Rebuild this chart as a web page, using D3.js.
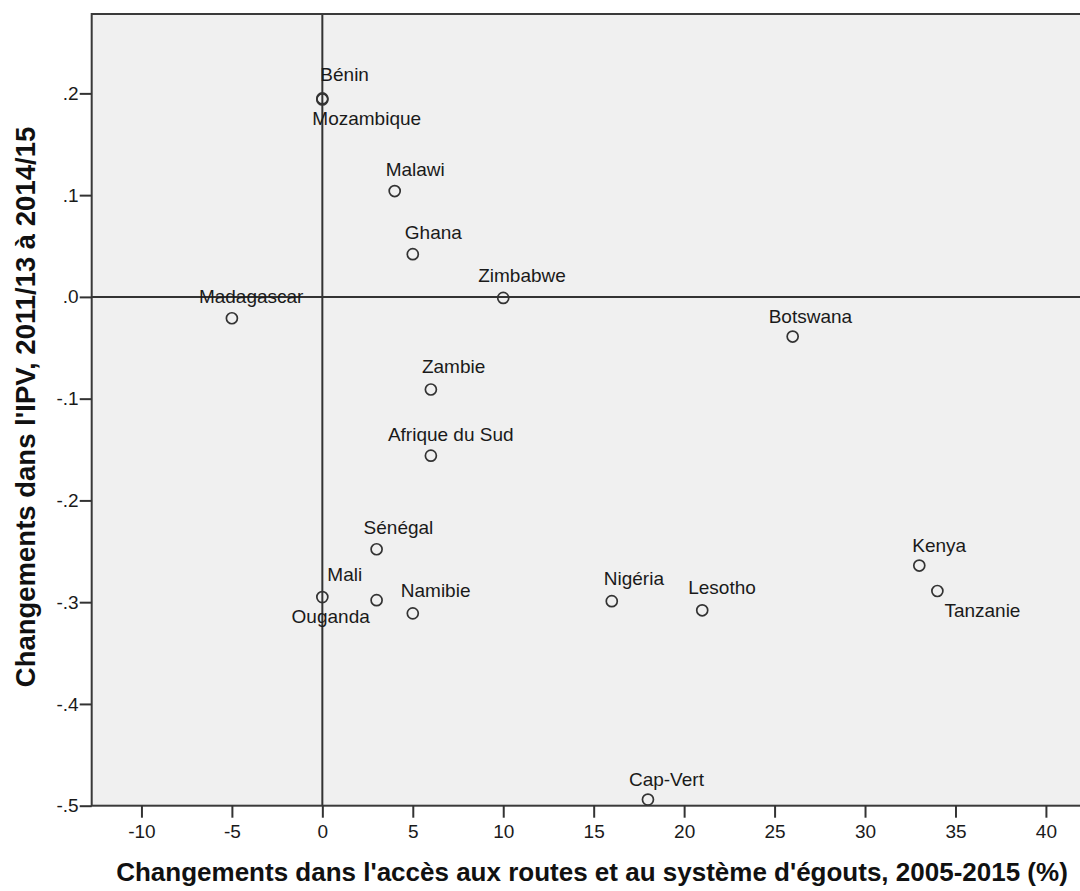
<!DOCTYPE html>
<html>
<head>
<meta charset="utf-8">
<script src="https://cdn.jsdelivr.net/npm/d3@7"></script>
<style>
  html, body { margin: 0; padding: 0; background: #ffffff; }
  svg { display: block; }
  text { font-family: "Liberation Sans", Arial, sans-serif; }
</style>
</head>
<body>
<svg id="chart" width="1080" height="891"></svg>
<script>
// ---- Data ----
const countries = ["Bénin","Mozambique","Malawi","Ghana","Zimbabwe","Madagascar","Botswana","Zambie",
  "Afrique du Sud","Sénégal","Mali","Ouganda","Namibie","Nigéria","Lesotho","Kenya","Tanzanie","Cap-Vert"];
const accessChange = [0, 0, 4, 5, 10, -5, 26, 6, 6, 3, 0, 3, 5, 16, 21, 33, 34, 18];
const ipvChange = [0.195, 0.194, 0.104, 0.042, -0.001, -0.021, -0.039, -0.091,
  -0.156, -0.248, -0.295, -0.298, -0.311, -0.299, -0.308, -0.264, -0.289, -0.494];
const xTickValues = [-10, -5, 0, 5, 10, 15, 20, 25, 30, 35, 40];
const xTickLabels = ["-10","-5","0","5","10","15","20","25","30","35","40"];
const yTickValues = [0.2, 0.1, 0.0, -0.1, -0.2, -0.3, -0.4, -0.5];
const yTickLabels = [".2", ".1", ".0", "-.1", "-.2", "-.3", "-.4", "-.5"];
const xTitle = "Changements dans l'accès aux routes et au système d'égouts, 2005-2015 (%)";
const yTitle = "Changements dans l'IPV, 2011/13 à 2014/15";

// label placement relative to each point (layout, in px)
const labelPlacement = [[-2,-17],[-10,26],[-9,-15],[-8,-15],[-25,-16],[-33,-15],[-24,-14],[-9,-16],
  [-43,-15],[-13,-15],[5,-16],[-85,23],[-12,-16],[-8,-16],[-14,-16],[-7,-14],[7,26],[-19,-14]];

// ---- Layout ----
const svg = d3.select("#chart");
const pLeft = 91.7, pRight = 1083, pTop = 14, pBottom = 805.7;

const x = d3.scaleLinear().domain([-12.75, 42.05]).range([pLeft, pRight]);
const y = d3.scaleLinear().domain([-0.5, 0.278]).range([pBottom, pTop]);

svg.append("rect").attr("x", 0).attr("y", 0).attr("width", 1080).attr("height", 891).attr("fill", "#ffffff");

// plot area
svg.append("rect")
  .attr("x", pLeft).attr("y", pTop)
  .attr("width", pRight - pLeft).attr("height", pBottom - pTop)
  .attr("fill", "#f0f0f0");

// reference lines
svg.append("line")
  .attr("x1", x(0)).attr("x2", x(0)).attr("y1", pTop).attr("y2", pBottom)
  .attr("stroke", "#333").attr("stroke-width", 2);
svg.append("line")
  .attr("x1", pLeft).attr("x2", pRight).attr("y1", y(0)).attr("y2", y(0))
  .attr("stroke", "#333").attr("stroke-width", 2);

// border
svg.append("rect")
  .attr("x", pLeft).attr("y", pTop)
  .attr("width", pRight - pLeft).attr("height", pBottom - pTop)
  .attr("fill", "none").attr("stroke", "#3a3a3a").attr("stroke-width", 2);

// axes
const xAxis = d3.axisBottom(x).tickValues(xTickValues)
  .tickFormat((d, i) => xTickLabels[i]).tickSize(12).tickPadding(7);
const gx = svg.append("g").attr("transform", `translate(0,${pBottom})`).call(xAxis);
gx.select(".domain").remove();
gx.selectAll(".tick line").attr("stroke", "#333").attr("stroke-width", 2);
gx.selectAll(".tick text").attr("font-size", 19).attr("fill", "#1a1a1a")
  .attr("font-family", '"Liberation Sans", Arial, sans-serif');

const yAxis = d3.axisLeft(y).tickValues(yTickValues)
  .tickFormat((d, i) => yTickLabels[i]).tickSize(12).tickPadding(1);
const gy = svg.append("g").attr("transform", `translate(${pLeft},0)`).call(yAxis);
gy.select(".domain").remove();
gy.selectAll(".tick line").attr("stroke", "#333").attr("stroke-width", 2);
gy.selectAll(".tick text").attr("font-size", 19).attr("fill", "#1a1a1a")
  .attr("font-family", '"Liberation Sans", Arial, sans-serif');

// points
const data = countries.map((c, i) => ({ name: c, x: accessChange[i], y: ipvChange[i], off: labelPlacement[i] }));

svg.append("g").selectAll("circle").data(data).join("circle")
  .attr("cx", d => x(d.x)).attr("cy", d => y(d.y)).attr("r", 5.5)
  .attr("fill", "none").attr("stroke", "#333").attr("stroke-width", 1.7);

svg.append("g").selectAll("text").data(data).join("text")
  .attr("x", d => x(d.x) + d.off[0]).attr("y", d => y(d.y) + d.off[1])
  .attr("font-size", 19).attr("fill", "#1a1a1a")
  .text(d => d.name);

// titles
svg.append("text")
  .attr("x", 592).attr("y", 881)
  .attr("text-anchor", "middle").attr("font-size", 26).attr("font-weight", "bold").attr("fill", "#111")
  .text(xTitle);
svg.append("text")
  .attr("transform", `translate(35,407) rotate(-90)`)
  .attr("text-anchor", "middle").attr("font-size", 27.5).attr("font-weight", "bold").attr("fill", "#111")
  .text(yTitle);
</script>
</body>
</html>
